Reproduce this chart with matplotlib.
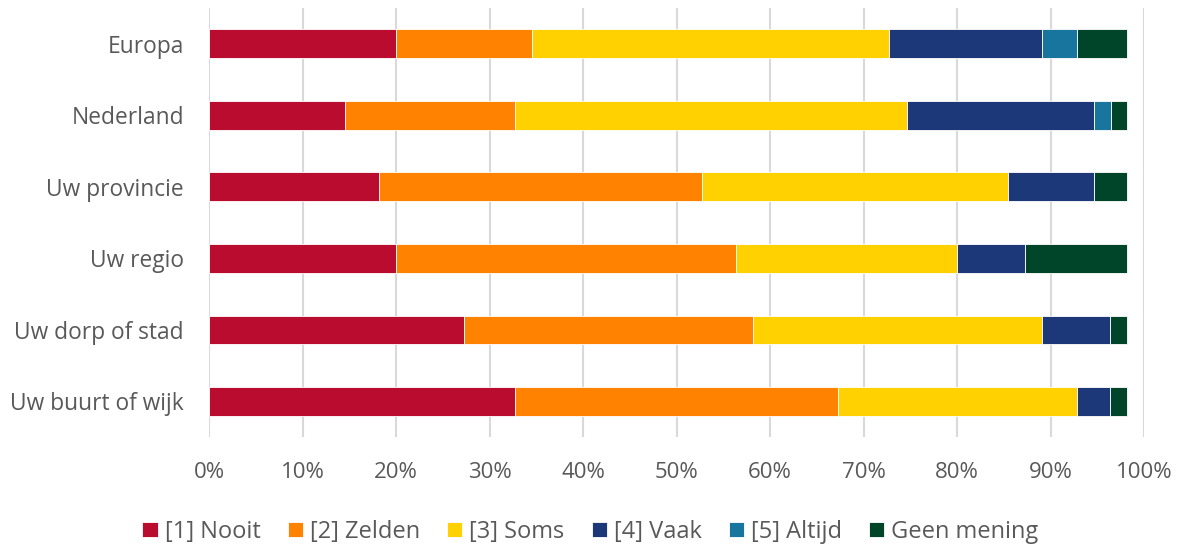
import numpy as np
import matplotlib
matplotlib.use("Agg")
import matplotlib.pyplot as plt
from matplotlib.ticker import PercentFormatter

plt.rcParams['font.family'] = ['Open Sans', 'DejaVu Sans']

# categories, top to bottom
categories = ['Europa', 'Nederland', 'Uw provincie', 'Uw regio',
              'Uw dorp of stad', 'Uw buurt of wijk']
series = ['[1] Nooit', '[2] Zelden', '[3] Soms', '[4] Vaak', '[5] Altijd', 'Geen mening']

nooit = [20.0, 14.5, 18.2, 20.0, 27.3, 32.7]
zelden = [14.5, 18.2, 34.5, 36.4, 30.9, 34.6]
soms = [38.2, 41.9, 32.8, 23.6, 30.9, 25.5]
vaak = [16.4, 20.0, 9.1, 7.3, 7.3, 3.6]
altijd = [3.7, 1.9, 0.0, 0.0, 0.0, 0.0]
geen = [5.4, 1.7, 3.6, 10.9, 1.8, 1.8]

colors = ['#BA0C2F', '#FF8200', '#FFD100', '#1C3878', '#18769E', '#00452A']

fig = plt.figure(figsize=(11.81, 5.45), dpi=100)
ax = fig.add_axes([0.177, 0.198, 0.7917, 0.7873])

y = np.arange(len(categories))
left = np.zeros(len(categories))
for vals, lab, col in zip([nooit, zelden, soms, vaak, altijd, geen], series, colors):
    vals = np.array(vals)
    ax.barh(y, vals, 0.4, left=left, color=col, label=lab,
            edgecolor='white', linewidth=0.6, zorder=3)
    left += vals

ax.set_ylim(len(categories) - 0.5, -0.5)
ax.set_xlim(0, 100)
ax.set_xticks(np.arange(0, 101, 10))
ax.xaxis.set_major_formatter(PercentFormatter(decimals=0))
ax.set_yticks(y)
ax.set_yticklabels(categories)

ax.grid(axis='x', color='#D9D9D9', linewidth=1.5, zorder=0)
for s in ax.spines.values():
    s.set_visible(False)
ax.tick_params(axis='both', length=0, labelsize=16, colors='#595959')
ax.tick_params(axis='y', labelsize=16.4, pad=18)
ax.tick_params(axis='x', pad=18)

fig.legend(loc='lower center', ncol=6, bbox_to_anchor=(0.5, -0.037), frameon=False,
           fontsize=17, labelcolor='#595959', handlelength=0.64, handleheight=0.64,
           handletextpad=0.3, columnspacing=1.15)

fig.savefig('out.png', dpi=100)
